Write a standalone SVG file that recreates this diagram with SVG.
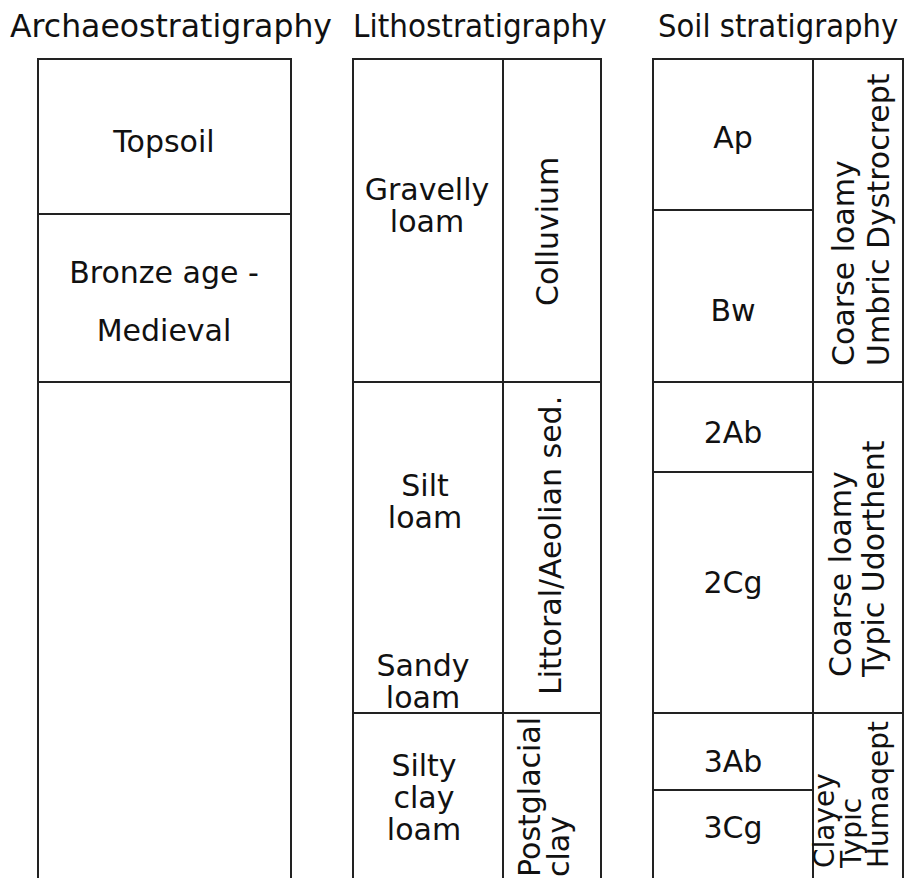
<svg xmlns="http://www.w3.org/2000/svg" width="905" height="878" viewBox="0 0 905 878">
<style>
.ln{stroke:#222;stroke-width:2;fill:none}
.t{font-family:"DejaVu Sans",sans-serif;font-size:30px;fill:#111;text-anchor:middle}
.h{font-family:"DejaVu Sans",sans-serif;font-size:31.5px;fill:#111}
.r{font-family:"DejaVu Sans",sans-serif;font-size:30px;fill:#111;text-anchor:start}
.rs{font-family:"DejaVu Sans",sans-serif;font-size:28px;fill:#111;text-anchor:start}
</style>
<rect width="905" height="878" fill="#fff"/>
<g id="headers">
<text class="h" transform="translate(10 37)">Archaeostratigraphy</text>
<text class="h" transform="translate(353 37) scale(0.937 1)">Lithostratigraphy</text>
<text class="h" transform="translate(658 37) scale(0.925 1)">Soil stratigraphy</text>
</g>
<g id="frames">
<path class="ln" d="M38 878V59H291V878"/>
<path class="ln" d="M353 878V59H601V878M503 59V878"/>
<path class="ln" d="M653 878V59H903V878M813 59V878"/>
</g>
<g id="connectors">
<path class="ln" d="M38 214H291M38 382H291"/>
<path class="ln" d="M353 382H601M353 713H601"/>
<path class="ln" d="M653 210H813M653 382H903M653 472H813M653 713H903M653 790H813"/>
</g>
<g id="topsoil"><text class="t" x="164" y="152">Topsoil</text></g>
<g id="bronze-medieval"><text class="t" x="164" y="283">Bronze age -</text><text class="t" x="164" y="341">Medieval</text></g>
<g id="gravelly-loam"><text class="t" x="427" y="200">Gravelly</text><text class="t" x="427" y="232">loam</text></g>
<g id="colluvium"><text class="r" transform="translate(558 306) rotate(-90)">Colluvium</text></g>
<g id="silt-loam"><text class="t" x="425" y="496">Silt</text><text class="t" x="425" y="528">loam</text></g>
<g id="sandy-loam"><text class="t" x="423" y="676">Sandy</text><text class="t" x="423" y="708">loam</text></g>
<g id="littoral"><text class="r" transform="translate(561 695) rotate(-90)">Littoral/Aeolian sed.</text></g>
<g id="silty-clay-loam"><text class="t" x="424" y="776">Silty</text><text class="t" x="424" y="808">clay</text><text class="t" x="424" y="840">loam</text></g>
<g id="postglacial"><text class="r" transform="translate(540 877) rotate(-90)">Postglacial</text><text class="r" transform="translate(569 877) rotate(-90)">clay</text></g>
<g id="ap"><text class="t" x="733" y="148">Ap</text></g>
<g id="bw"><text class="t" x="733" y="321">Bw</text></g>
<g id="ab2"><text class="t" x="733" y="443">2Ab</text></g>
<g id="cg2"><text class="t" x="733" y="593">2Cg</text></g>
<g id="ab3"><text class="t" x="733" y="772">3Ab</text></g>
<g id="cg3"><text class="t" x="733" y="838">3Cg</text></g>
<g id="dystrocrept"><text class="r" transform="translate(854 366) rotate(-90)">Coarse loamy</text><text class="r" transform="translate(889 366) rotate(-90)">Umbric Dystrocrept</text></g>
<g id="udorthent"><text class="r" transform="translate(851 677) rotate(-90)">Coarse loamy</text><text class="r" transform="translate(884 677) rotate(-90)">Typic Udorthent</text></g>
<g id="humaqept"><text class="rs" transform="translate(834 868) rotate(-90)">Clayey</text><text class="rs" transform="translate(861 868) rotate(-90)">Typic</text><text class="rs" transform="translate(888 868) rotate(-90)">Humaqept</text></g>
</svg>
